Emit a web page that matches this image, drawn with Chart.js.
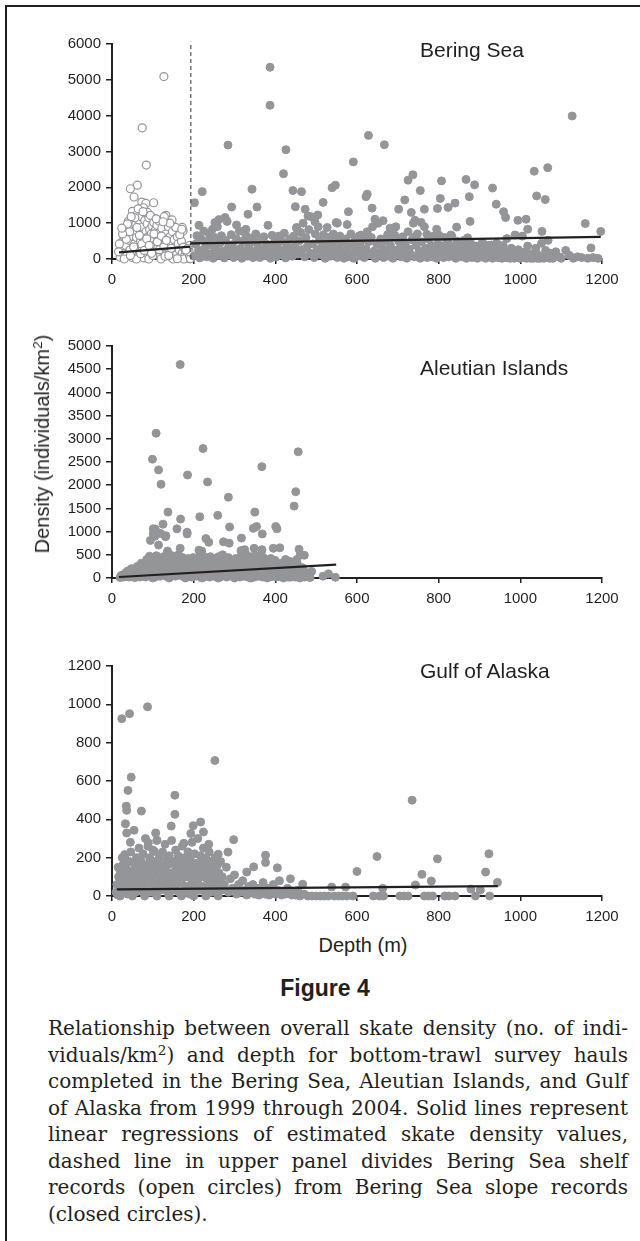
<!DOCTYPE html>
<html>
<head>
<meta charset="utf-8">
<script src="https://cdn.jsdelivr.net/npm/chart.js@4.4.1/dist/chart.umd.min.js"></script>
<style>
  html, body { margin: 0; padding: 0; background: #fff; }
  #page { position: relative; width: 640px; height: 1241px; overflow: hidden; color: #231f20; font-family: "Liberation Sans", Arial, sans-serif; }
  .frame { position: absolute; left: 5px; top: 5px; right: -4px; bottom: -4px; border-left: 2px solid #231f20; border-top: 2px solid #231f20; }
  canvas { position: absolute; left: 0; }
  .region { position: absolute; left: 420px; font-size: 21px; line-height: 21px; white-space: nowrap; }
  .ytitle { position: absolute; left: 42px; top: 444px; font-size: 20px; line-height: 20px; white-space: nowrap; transform: translate(-50%, -50%) rotate(-90deg); }
  .xtitle { position: absolute; left: 363px; top: 935px; font-size: 20px; line-height: 20px; white-space: nowrap; transform: translateX(-50%); }
  .fig { position: absolute; left: 325px; top: 977px; font-size: 23px; line-height: 23px; font-weight: bold; transform: translateX(-50%); white-space: nowrap; }
  .caption { position: absolute; left: 48px; top: 1015px; width: 580px; font-family: "DejaVu Serif", serif; font-size: 20px; line-height: 26.5px; }
  .caption div { white-space: nowrap; text-align: justify; text-align-last: justify; }
  .caption div.last { text-align-last: left; }
  sup { font-size: 0.68em; line-height: 0; vertical-align: baseline; position: relative; top: -0.5em; }
</style>
</head>
<body>
<div id="page">
  <div class="frame"></div>
  <canvas id="bering" width="640" height="300" style="top:0px;width:640px;height:300px"></canvas>
  <canvas id="aleutian" width="640" height="330" style="top:300px;width:640px;height:330px"></canvas>
  <canvas id="gulf" width="640" height="300" style="top:630px;width:640px;height:300px"></canvas>
  <div class="region" style="top:39px">Bering Sea</div>
  <div class="region" style="top:357px">Aleutian Islands</div>
  <div class="region" style="top:660px">Gulf of Alaska</div>
  <div class="ytitle">Density (individuals/km<sup>2</sup>)</div>
  <div class="xtitle">Depth (m)</div>
  <div class="fig">Figure 4</div>
  <div class="caption">
    <div>Relationship between overall skate density (no. of indi-</div>
    <div>viduals/km<sup>2</sup>) and depth for bottom-trawl survey hauls</div>
    <div>completed in the Bering Sea, Aleutian Islands, and Gulf</div>
    <div>of Alaska from 1999 through 2004. Solid lines represent</div>
    <div>linear regressions of estimated skate density values,</div>
    <div>dashed line in upper panel divides Bering Sea shelf</div>
    <div>records (open circles) from Bering Sea slope records</div>
    <div class="last">(closed circles).</div>
  </div>
</div>
<script>
// tick labels
const depthTicks = [0, 200, 400, 600, 800, 1000, 1200]
const beringTicks = [0, 1000, 2000, 3000, 4000, 5000, 6000]
const aleutianTicks = [0, 500, 1000, 1500, 2000, 2500, 3000, 3500, 4000, 4500, 5000]
const gulfTicks = [0, 200, 400, 600, 800, 1000, 1200]

// Bering Sea shelf hauls (open circles), [depth m, density]
const shelfHauls = [
  [127,5090],[74,3660],[84,2620],[62,2060],[45,1960],[54,1730],[73,1590],[83,1550],[102,1570],[77,1430],
  [50,1330],[132,1220],[147,1090],[99,1150],[33,830],[172,880],[155,790],
  [20,50],[22,300],[25,480],[28,150],[30,620],[32,820],[34,380],[36,90],[38,700],[40,1050],
  [42,520],[44,250],[46,900],[48,640],[50,40],[52,1100],[54,780],[55,420],[57,200],[58,960],
  [60,600],[62,1250],[63,310],[65,850],[66,120],[68,1020],[70,500],[71,720],[72,1180],[74,260],
  [75,900],[77,580],[78,30],[80,1080],[81,400],[83,760],[84,180],[86,980],[88,620],[89,320],
  [90,1150],[92,820],[93,60],[95,480],[96,700],[98,920],[99,250],[101,560],[102,1020],[104,380],
  [106,800],[107,140],[109,640],[110,940],[112,300],[114,520],[115,1060],[117,720],[118,80],[120,420],
  [122,860],[124,220],[126,600],[128,1180],[130,380],[132,700],[134,160],[136,480],[138,900],[140,280],
  [142,620],[144,60],[146,440],[148,760],[150,200],[152,540],[155,340],[158,120],[160,620],[162,420],
  [165,250],[168,60],[170,500],[172,170],[175,330],[178,90],[180,240],[183,40],[185,140],[188,20],
  [190,380],[186,300],[176,0],[150,0],[120,0],[90,0],[60,0],[30,0],[45,100],[70,150],
  [100,100],[130,80],[160,10],[35,550],[43,760],[53,340],[61,880],[67,660],[73,420],[79,240],
  [85,560],[91,380],[97,160],[103,700],[111,480],[116,260],[121,640],[127,340],[133,520],[139,100],
  [145,300],[87,1300],[64,1400],[56,1150],[94,1220],[108,1120],[76,1320],[47,1180],[38,980],[26,700],
  [24,860],[18,420],[16,200],[190,90],[192,10],[189,200],[174,780],[166,680],[156,880],[142,1000],
  [125,1040],[171,830],[181,250]
]

// Bering Sea slope hauls (closed circles)
const slopeHauls = [
  [387,5350],[387,4290],[284,3180],[426,3050],[420,2380],[343,1950],[443,1910],[464,1880],[221,1880],[202,1570],
  [293,1450],[355,1450],[333,1250],[449,1460],[473,1390],[213,940],[382,940],[628,3450],[667,3190],[591,2710],
  [625,1810],[622,1740],[637,1420],[539,1990],[547,2060],[517,1580],[579,1320],[549,1020],[576,960],[644,1110],
  [664,1070],[737,2350],[725,2200],[717,1650],[755,1910],[702,1390],[733,1300],[765,1390],[742,1080],[807,2180],
  [804,1690],[797,1410],[823,1440],[840,1560],[795,830],[844,890],[867,2220],[888,2070],[875,1740],[877,1050],
  [932,1980],[941,1530],[959,1320],[964,1160],[994,1080],[1014,1110],[1018,830],[1034,2450],[1067,2550],[1040,1760],
  [1061,1660],[1053,770],[1127,3990],[1159,990],[1197,770],[1173,310],[1111,240],[1087,200],[987,670],[967,570],
  [907,460],[923,320],[277,1160],[252,1020],[262,1100],[305,950],[246,830],[328,830],[480,1200],[497,1040],
  [504,1230],[527,880],[552,1000],[452,860],[757,1020],[691,870],[681,860],[771,690],[800,670],[830,670],
  [610,670],[626,560],[631,590],[692,670],[741,610],[871,590],[929,390],
  [200,80],[205,420],[208,650],[212,250],[215,30],[218,560],[222,180],[225,780],[228,320],[232,60],
  [235,500],[238,700],[242,150],[245,380],[248,20],[252,600],[255,260],[258,900],[262,100],[265,450],
  [268,650],[272,220],[275,30],[278,520],[282,1050],[285,320],[288,110],[292,680],[295,400],[298,40],
  [302,240],[305,560],[308,120],[312,780],[315,300],[318,20],[322,500],[325,180],[328,660],[332,80],
  [335,380],[338,580],[342,220],[345,40],[348,480],[352,700],[355,160],[358,340],[362,40],[365,560],
  [368,250],[372,620],[375,90],[378,420],[382,150],[385,300],[388,20],[392,660],[395,220],[398,480],
  [402,60],[405,340],[408,640],[412,120],[415,500],[418,240],[422,720],[425,30],[428,400],[432,180],
  [435,560],[438,280],[442,80],[445,640],[448,360],[452,880],[455,140],[458,500],[462,740],[465,260],
  [468,1000],[472,60],[475,600],[478,340],[482,820],[485,160],[488,1180],[492,420],[495,40],[498,700],
  [502,260],[505,900],[508,520],[512,120],[515,340],[518,680],[522,20],[525,460],[528,240],[532,600],
  [535,80],[538,380],[542,700],[545,180],[548,520],[552,40],[555,300],[558,640],[562,140],[565,460],
  [568,20],[572,560],[575,260],[578,60],[582,420],[585,700],[588,180],[592,20],[595,520],[598,300],
  [602,80],[605,640],[608,360],[612,140],[615,540],[618,40],[622,280],[625,760],[628,480],[632,120],
  [635,600],[638,900],[642,220],[645,20],[648,420],[652,1000],[655,160],[658,560],[662,300],[665,40],
  [668,500],[672,220],[675,680],[678,80],[682,380],[685,600],[688,20],[692,240],[695,900],[698,140],
  [702,500],[705,300],[708,60],[712,620],[715,180],[718,420],[722,20],[725,760],[728,280],[732,120],
  [735,540],[738,1000],[742,60],[745,380],[748,700],[752,220],[755,20],[758,480],[762,140],[765,900],
  [768,300],[772,40],[775,560],[778,200],[782,380],[785,60],[788,640],[792,260],[795,20],[798,420],
  [802,640],[805,160],[808,360],[812,40],[815,600],[818,220],[822,480],[825,60],[828,380],[832,640],
  [835,140],[838,300],[842,20],[845,500],[848,200],[852,420],[855,60],[858,300],[862,520],[865,120],
  [868,20],[872,380],[875,200],[878,460],[882,40],[885,260],[888,100],[892,360],[895,20],[898,180],
  [902,300],[905,60],[908,440],[912,140],[915,20],[918,260],[922,380],[925,80],[928,200],[932,20],
  [935,300],[938,120],[942,440],[945,40],[948,220],[952,100],[955,20],[958,380],[962,60],[965,200],
  [968,30],[972,120],[975,20],[978,300],[982,80],[985,20],[988,160],[992,40],[995,260],[998,20],
  [1002,120],[1005,640],[1008,40],[1012,200],[1015,20],[1018,360],[1022,80],[1025,20],[1028,140],[1032,20],
  [1035,60],[1038,300],[1042,20],[1045,100],[1048,20],[1052,440],[1055,60],[1058,20],[1062,240],[1065,40],
  [1068,520],[1072,20],[1075,160],[1080,20],[1095,60],[1100,20],[1120,100],[1130,20],[1140,60],[1150,40],
  [1165,20],[1178,40],[1190,20]
]

// Aleutian Islands hauls
const aleutianHauls = [
  [167,4600],[108,3120],[99,2560],[114,2330],[120,2020],[185,2220],[223,2790],[234,2070],[285,1740],[259,1350],
  [215,1320],[137,1420],[168,1270],[184,950],[350,1420],[354,1110],[346,1070],[367,2400],[368,950],[401,1110],
  [404,1060],[456,2720],[450,1860],[446,1550],[288,1100],[317,860],[411,650],[458,620],[471,490],[105,900],
  [94,810],[114,710],[125,1160],[101,1060],[132,910],[159,1060],[92,470],[273,780],[230,850],[237,770],
  [220,580],[325,610],[367,610],[489,140],[517,40],[530,90],[547,15],[22,50],[47,190],
  [184,985],[131,890],[119,960],[106,1056],[101,950],[136,580],[213,600],[167,640],[316,590],[287,750],
  [348,640],[367,600],[395,640],
  [20,10],[25,60],[28,20],[32,100],[35,40],[38,150],[42,20],[45,80],[48,200],[50,40],
  [52,120],[55,10],[58,160],[60,60],[62,250],[65,100],[68,20],[70,180],[72,320],[75,60],
  [78,140],[80,240],[82,20],[85,400],[88,100],[90,300],[92,180],[95,50],[97,420],[99,260],
  [101,140],[103,350],[105,20],[107,220],[109,480],[111,100],[113,300],[115,180],[117,40],[119,380],
  [121,250],[123,120],[125,450],[127,60],[129,320],[131,200],[133,500],[135,100],[137,280],[139,20],
  [141,400],[143,160],[145,260],[147,480],[149,80],[151,340],[153,220],[155,40],[157,420],[159,300],
  [161,140],[163,500],[165,60],[167,360],[169,220],[171,100],[173,440],[175,280],[177,20],[179,380],
  [181,160],[183,260],[185,40],[187,420],[189,300],[191,120],[193,360],[195,20],[197,240],[199,440],
  [201,100],[203,320],[205,180],[207,40],[209,400],[211,260],[213,120],[215,480],[217,60],[219,320],
  [221,200],[223,20],[225,380],[227,140],[229,260],[231,440],[233,80],[235,340],[237,180],[239,20],
  [241,460],[243,260],[245,120],[247,360],[249,40],[251,240],[253,420],[255,140],[257,300],[259,60],
  [261,460],[263,200],[265,20],[267,340],[269,120],[271,500],[273,260],[275,60],[277,380],[279,180],
  [281,20],[283,300],[285,440],[287,100],[289,240],[291,380],[293,40],[295,200],[297,320],[299,120],
  [301,20],[303,420],[305,260],[307,80],[309,340],[311,160],[313,20],[315,460],[317,240],[319,100],
  [321,360],[323,40],[325,200],[327,520],[329,140],[331,300],[333,20],[335,400],[337,180],[339,60],
  [341,280],[343,460],[345,100],[347,340],[349,20],[351,220],[353,480],[355,120],[357,300],[359,40],
  [361,400],[363,200],[365,80],[367,320],[369,20],[371,440],[373,160],[375,280],[377,60],[379,380],
  [381,200],[383,20],[385,300],[387,100],[389,420],[391,200],[393,40],[395,260],[397,80],[399,380],
  [401,140],[403,20],[405,300],[407,200],[409,60],[411,320],[413,100],[415,20],[417,240],[419,140],
  [421,40],[423,200],[425,400],[427,80],[429,300],[431,20],[433,180],[435,360],[437,100],[439,20],
  [441,240],[443,140],[445,60],[447,300],[449,20],[451,180],[453,400],[455,100],[457,260],[459,20],
  [461,500],[463,140],[465,40],[467,220],[469,80],[471,20],[475,120],[480,40],[485,10],
  [60,20],[75,110],[90,60],[105,130],[120,70],[135,30],[150,150],[165,90],[180,10],[195,130],
  [210,70],[225,20],[240,110],[255,50],[270,150],[285,80],[300,40],[315,120],[330,60],[345,20],
  [360,140],[375,90],[390,30],[405,130],[420,80],[435,20],[450,110],[465,60],[100,0],[140,0],
  [180,0],[220,0],[260,0],[300,0],[340,0],[380,0],[420,0],[460,0]
]

// Gulf of Alaska hauls
const gulfHauls = [
  [24,925],[43,951],[87,987],[47,620],[39,551],[35,469],[36,447],[72,443],[33,377],[36,329],
  [54,343],[45,280],[31,216],[35,173],[252,707],[154,526],[154,426],[145,365],[176,275],[217,386],
  [199,367],[193,326],[224,334],[298,294],[735,500],[649,206],[923,220],[797,194],[600,128],[759,113],
  [915,125],[743,57],[782,78],[944,71],[879,36],[902,31],[663,40],[538,47],[572,47],[405,147],
  [376,213],[376,175],[437,90],[467,61],[347,152],[330,125],[284,229],[260,218],[237,270],[107,329],
  [110,291],[104,232],[82,300],[89,277],
  [10,20],[12,60],[14,5],[16,100],[18,40],[20,130],[22,10],[24,80],[26,160],[28,30],
  [30,110],[32,200],[34,60],[36,140],[38,10],[40,90],[42,180],[44,40],[46,230],[48,120],
  [50,20],[52,70],[54,170],[56,110],[58,20],[60,200],[62,60],[64,140],[66,250],[68,30],
  [70,100],[72,180],[74,60],[76,220],[78,130],[80,10],[82,90],[84,160],[86,40],[88,260],
  [90,120],[92,200],[94,20],[96,80],[98,150],[100,240],[102,50],[104,180],[106,110],[108,10],
  [110,290],[112,140],[114,70],[116,200],[118,30],[120,160],[122,100],[124,230],[126,40],[128,130],
  [130,270],[132,80],[134,190],[136,20],[138,120],[140,210],[142,60],[144,170],[146,290],[148,100],
  [150,30],[152,180],[154,130],[156,240],[158,60],[160,150],[162,210],[164,20],[166,110],[168,190],
  [170,70],[172,260],[174,140],[176,30],[178,200],[180,100],[182,170],[184,50],[186,230],[188,130],
  [190,10],[192,190],[194,90],[196,280],[198,150],[200,40],[202,220],[204,120],[206,170],[208,60],
  [210,300],[212,140],[214,30],[216,210],[218,100],[220,180],[222,50],[224,250],[226,130],[228,20],
  [230,200],[232,90],[234,160],[236,40],[238,230],[240,120],[242,20],[244,180],[246,80],[248,140],
  [250,30],[252,200],[254,100],[256,60],[258,160],[260,20],[262,120],[264,60],[266,180],[268,30],
  [270,100],[15,150],[25,200],[35,90],[45,30],[55,140],[65,70],[75,160],[85,110],[95,180],
  [105,60],[115,130],[125,80],[135,160],[145,40],[155,90],[165,160],[175,100],[185,180],[195,60],
  [205,80],[215,150],[225,100],[235,120],[245,50],[255,120],[265,90],[30,40],[60,100],[90,50],
  [120,50],[150,80],[180,40],[210,80],[240,60],[20,0],[50,0],[80,0],[110,0],[140,0],
  [170,0],[200,0],[230,0],[260,0],
  [275,60],[280,150],[285,20],[290,90],[295,40],[300,110],[305,10],[310,60],[315,20],[320,80],
  [325,30],[330,5],[335,50],[340,20],[345,60],[350,10],[355,40],[360,5],[365,30],[370,70],
  [375,10],[380,40],[385,5],[390,20],[395,60],[400,10],[405,30],[410,80],[415,5],[420,20],
  [425,10],[430,40],[440,5],[445,20],[450,5],[455,30],[460,0],[470,10],[480,0],[490,0],
  [500,0],[510,0],[520,0],[530,0],[545,0],[555,0],[565,0],[575,0],[590,0],[640,0],
  [655,0],[665,0],[705,0],[715,0],[725,0],[765,0],[775,0],[785,0],[815,0],[825,0],
  [840,0],[890,0],[925,0]
]

// regression lines and shelf/slope divider, [depth, density]
const shelfFit = [[17,185],[192,343]]
const slopeFit = [[192,435],[1197,620]]
const aleutianFit = [[17,21],[549,287]]
const gulfFit = [[12,35],[945,52]]
const shelfSlopeDivider = [[193,0],[193,6060]]

const ink = '#231f20'
const dotGray = '#939598'
const tickFont = { family: 'Liberation Sans', size: 15 }

function points(pairs) {
  return pairs.map(p => ({ x: p[0], y: p[1] }))
}

function fitLine(pairs) {
  return { data: points(pairs), showLine: true, borderColor: ink, borderWidth: 2.2, pointRadius: 0, clip: false }
}

function hauls(pairs, open) {
  return {
    data: points(pairs),
    showLine: false,
    pointRadius: 4,
    pointBorderWidth: open ? 1.2 : 1,
    pointBackgroundColor: open ? '#ffffff' : dotGray,
    pointBorderColor: dotGray,
    clip: false,
  }
}

function drawPanel(id, datasets, yTicks, padTop, xHeight) {
  return new Chart(document.getElementById(id), {
    type: 'scatter',
    data: { datasets: datasets },
    options: {
      responsive: false,
      animation: false,
      devicePixelRatio: 1,
      events: [],
      layout: { padding: { top: padTop, right: 38, bottom: 0, left: 0 } },
      plugins: { legend: { display: false }, tooltip: { enabled: false } },
      scales: {
        x: {
          type: 'linear',
          min: depthTicks[0],
          max: depthTicks[depthTicks.length - 1],
          afterBuildTicks: s => { s.ticks = depthTicks.map(v => ({ value: v })) },
          afterFit: s => { s.height = xHeight },
          grid: { drawOnChartArea: false, drawTicks: true, tickLength: 5, color: ink, lineWidth: 1.5 },
          border: { display: true, color: ink, width: 2 },
          ticks: { color: ink, font: tickFont, padding: 7, maxRotation: 0, autoSkip: false, callback: v => String(v) },
        },
        y: {
          type: 'linear',
          min: yTicks[0],
          max: yTicks[yTicks.length - 1],
          afterBuildTicks: s => { s.ticks = yTicks.map(v => ({ value: v })) },
          afterFit: s => { s.width = 112 },
          grid: { drawOnChartArea: false, drawTicks: true, tickLength: 6, color: ink, lineWidth: 1.5 },
          border: { display: true, color: ink, width: 2 },
          ticks: { color: ink, font: tickFont, padding: 5, autoSkip: false, callback: v => String(v) },
        },
      },
    },
  })
}

drawPanel('bering', [
  fitLine(shelfFit),
  fitLine(slopeFit),
  { data: points(shelfSlopeDivider), showLine: true, borderColor: '#555', borderWidth: 1.2, borderDash: [4, 3], pointRadius: 0, clip: false },
  hauls(slopeHauls, false),
  hauls(shelfHauls, true),
], beringTicks, 44, 41)

drawPanel('aleutian', [
  fitLine(aleutianFit),
  hauls(aleutianHauls, false),
], aleutianTicks, 46, 52)

drawPanel('gulf', [
  fitLine(gulfFit),
  hauls(gulfHauls, false),
], gulfTicks, 36, 34)
</script>
</body>
</html>
